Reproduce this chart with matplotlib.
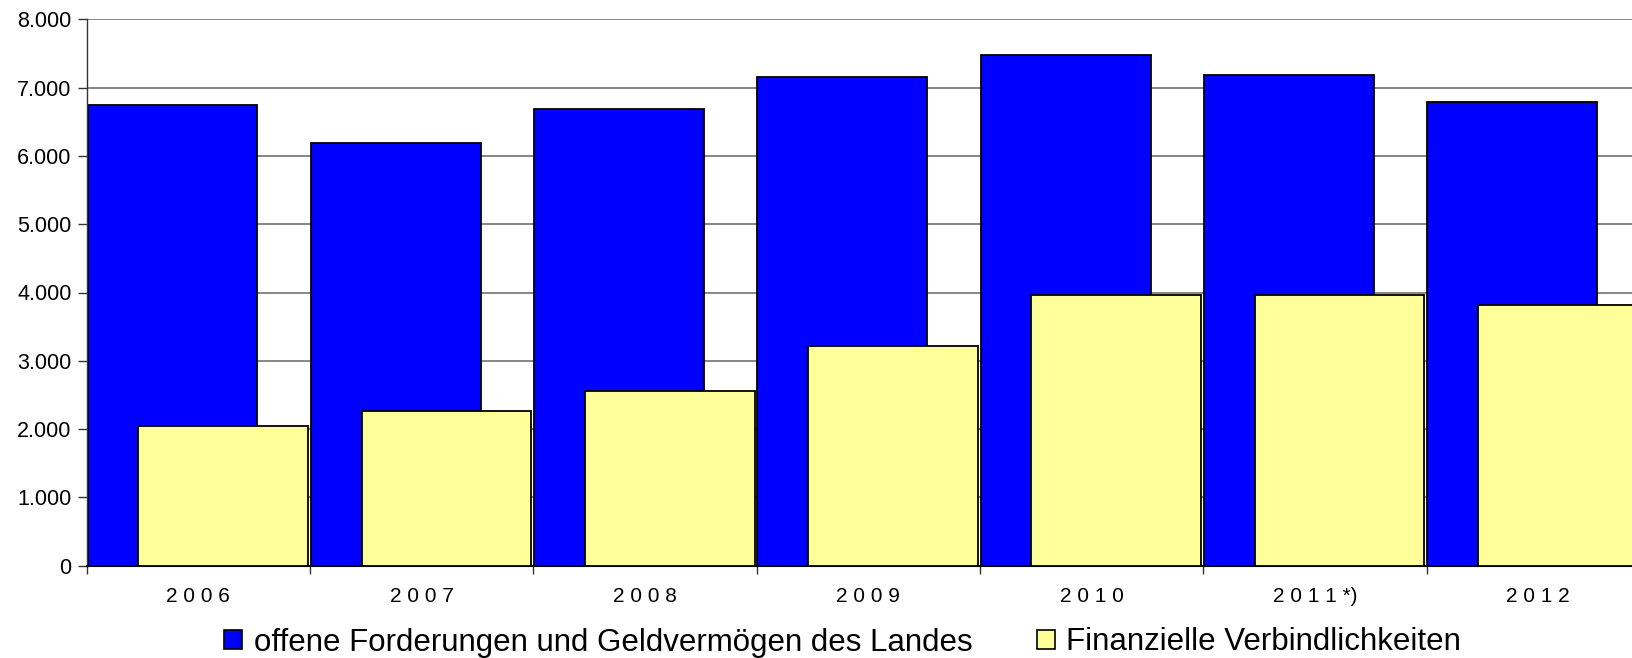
import matplotlib
matplotlib.use("Agg")
import matplotlib.pyplot as plt
import numpy as np
from matplotlib.patches import Patch

# Values (Mio. EUR)
years = ["2 0 0 6", "2 0 0 7", "2 0 0 8", "2 0 0 9", "2 0 1 0", "2 0 1 1 *)", "2 0 1 2"]
forderungen = [6750, 6190, 6690, 7150, 7475, 7180, 6795]
verbindlichkeiten = [2040, 2270, 2555, 3220, 3960, 3960, 3815]
yticks = [0, 1000, 2000, 3000, 4000, 5000, 6000, 7000, 8000]
ytick_labels = ["0", "1.000", "2.000", "3.000", "4.000", "5.000", "6.000", "7.000", "8.000"]
label_blue = "offene Forderungen und Geldvermögen des Landes"
label_yellow = "Finanzielle Verbindlichkeiten"

BLUE = "#0000FF"
YELLOW = "#FFFF99"

plt.rcParams['font.family'] = ['Liberation Sans', 'DejaVu Sans']

W, H = 1632, 658
fig = plt.figure(figsize=(W / 100, H / 100), dpi=100)

# axes run past the right edge of the picture, like the original
left, bottom, top = 86.7, 565.7, 19.3
cat_w = 223.3
ax = fig.add_axes([left / W, (H - bottom) / H, 7 * cat_w / W, (bottom - top) / H])

x = np.arange(len(years))
bw = 0.76
ax.bar(x - 0.116, forderungen, width=bw, color=BLUE, edgecolor="black", linewidth=1.3, zorder=2)
ax.bar(x + 0.111, verbindlichkeiten, width=bw, color=YELLOW, edgecolor="black", linewidth=1.3, zorder=3)

ax.set_xlim(-0.5, len(years) - 0.5)
ax.set_ylim(0, 8000)

ax.set_yticks(yticks, ytick_labels)
ax.grid(axis="y", color="#666666", linewidth=1.1)
ax.set_axisbelow(True)

# category boundaries as major ticks, labels on minor ticks at the centres
ax.set_xticks(np.arange(-0.5, len(years), 1.0), [""] * (len(years) + 1))
ax.set_xticks(x, years, minor=True)
ax.tick_params(axis="x", which="major", direction="out", length=6, width=1, color="#333333")
ax.tick_params(axis="x", which="minor", direction="in", length=4, width=1, color="#333333",
               labelsize=15, pad=15.5)
ax.tick_params(axis="y", direction="out", length=6.5, width=1, color="#333333",
               labelsize=15.5, pad=4.5)

for s in ["top", "right"]:
    ax.spines[s].set_visible(False)
ax.spines["left"].set_color("#333333")
ax.spines["left"].set_linewidth(1.0)
ax.spines["bottom"].set_linewidth(1.5)

h1 = Patch(facecolor=BLUE, edgecolor="black", linewidth=1.2)
h2 = Patch(facecolor=YELLOW, edgecolor="black", linewidth=1.2)
common = dict(frameon=False, fontsize=22.5, borderpad=0, borderaxespad=0,
              handlelength=0.58, handleheight=0.58, handletextpad=0.37, loc="center left")
fig.legend(handles=[h1], labels=[label_blue], bbox_to_anchor=(224 / W, 15.5 / H), **common)
fig.legend(handles=[h2], labels=[label_yellow], bbox_to_anchor=(1036.7 / W, 15.5 / H), **common)

fig.savefig("out.png", dpi=100)
